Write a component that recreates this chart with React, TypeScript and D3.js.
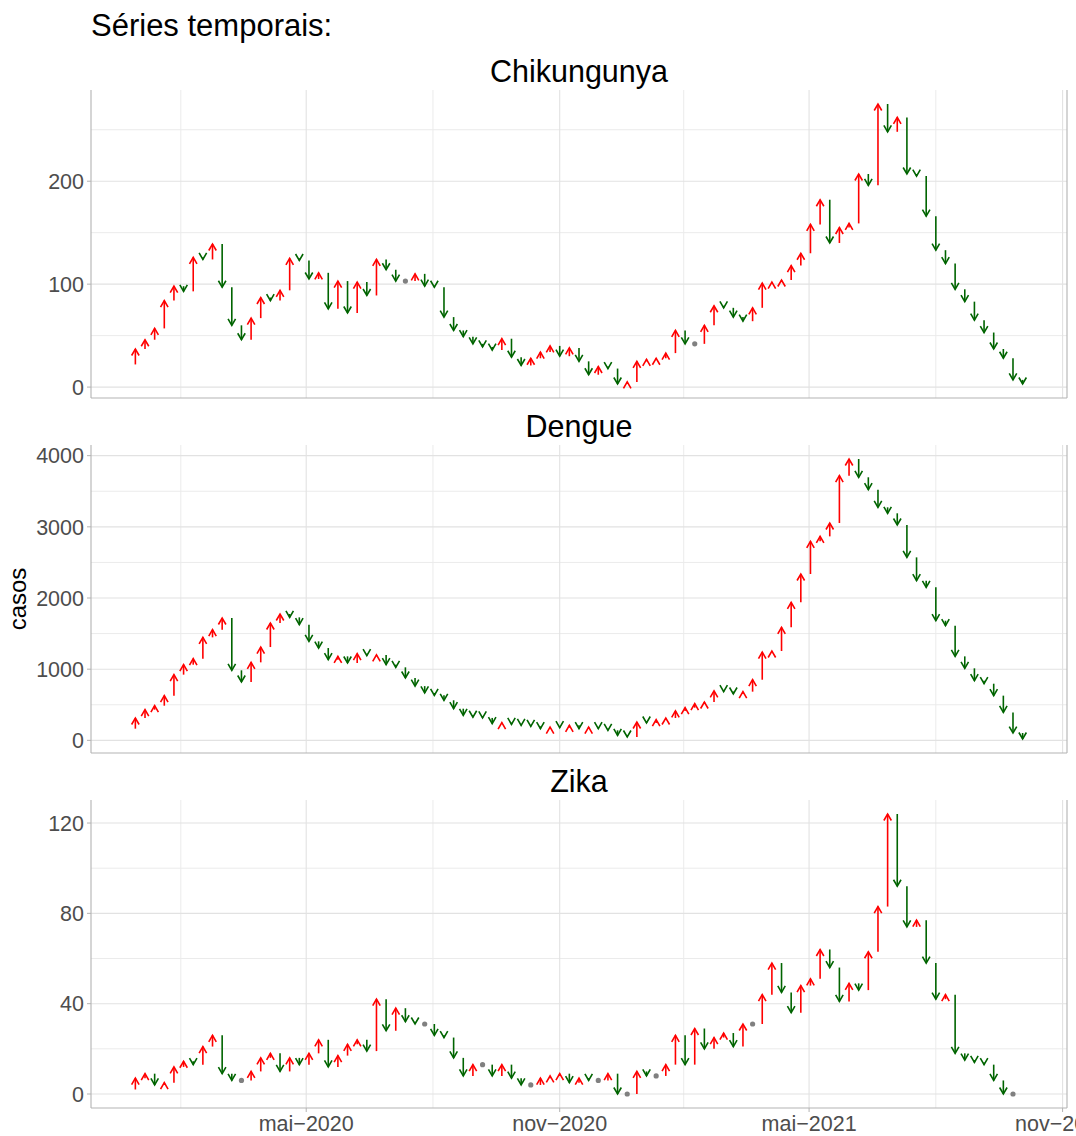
import React from 'react';
import * as d3 from 'd3';

// semanas epidemiológicas, a partir de 29/12/2019
const inicioSemanas = Date.UTC(2019, 11, 29);

// valor da semana anterior à primeira seta
const chikInicial = 22;
const chikungunya = [
  37, 46, 57, 84, 98, 93, 126, 124, 139, 97,
  60, 46, 67, 87, 84, 94, 125, 123, 105, 111,
  76, 103, 72, 102, 89, 124, 114, 103, 103, 110,
  98, 97, 68, 55, 49, 42, 39, 36, 47, 29,
  21, 28, 34, 40, 30, 38, 25, 12, 20, 18,
  3, 5, 25, 27, 28, 33, 55, 42, 42, 60,
  79, 77, 68, 64, 77, 101, 102, 104, 118, 130,
  158, 182, 140, 155, 159, 207, 196, 275, 248, 262,
  207, 205, 166, 133, 120, 95, 83, 65, 53, 37,
  28, 7, 3,
];

const dengueInicial = 164;
const dengue = [
  314, 431, 487, 628, 923, 1063, 1148, 1447, 1555, 1719,
  984, 820, 1096, 1311, 1649, 1775, 1728, 1625, 1391, 1297,
  1133, 1180, 1087, 1218, 1190, 1200, 1063, 1026, 876, 762,
  666, 633, 563, 445, 352, 325, 315, 236, 248, 225,
  211, 197, 164, 187, 178, 211, 164, 187, 164, 141,
  70, 47, 258, 244, 291, 314, 413, 459, 516, 539,
  694, 686, 651, 684, 852, 1240, 1255, 1588, 1939, 2337,
  2796, 2866, 3054, 3719, 3953, 3696, 3522, 3274, 3190, 3026,
  2571, 2244, 2150, 1681, 1611, 1180, 1012, 838, 796, 628,
  393, 103, 19,
];

const zikaInicial = 2;
const zika = [
  7, 9, 4, 5, 12, 14.5, 13, 21, 26, 9,
  6, 6, 10, 16, 18, 10, 16, 13, 18, 24,
  12, 17, 22, 24, 19, 42, 28, 38, 32, 31,
  31, 26, 25, 16, 8, 13, 13, 8, 13, 7,
  4, 4, 7, 8, 9, 5, 7, 6, 6, 9,
  0, 0, 10, 8, 8, 13, 26, 13, 29, 20,
  25, 27, 21, 31, 31, 44, 58, 45, 36, 48,
  51, 64, 56, 41, 49, 46, 63, 83, 124, 92,
  74, 77, 58, 42, 44, 18, 15, 14, 13, 6,
  0, 0,
];

const chikTicks = [0, 100, 200];
const chikMinor = [50, 150, 250];
const dengueTicks = [0, 1000, 2000, 3000, 4000];
const dengueMinor = [500, 1500, 2500, 3500];
const zikaTicks = [0, 40, 80, 120];
const zikaMinor = [20, 60, 100];

const xTickDates = [Date.UTC(2020, 4, 1), Date.UTC(2020, 10, 1), Date.UTC(2021, 4, 1), Date.UTC(2021, 10, 1)];
const xTickLabels = ['mai\u22122020', 'nov\u22122020', 'mai\u22122021', 'nov\u22122021'];
const xMinorDates = [Date.UTC(2020, 0, 31), Date.UTC(2020, 7, 1), Date.UTC(2021, 0, 30), Date.UTC(2021, 7, 1)];

const series = [
  { name: 'Chikungunya', start: chikInicial, values: chikungunya, ticks: chikTicks, minor: chikMinor },
  { name: 'Dengue', start: dengueInicial, values: dengue, ticks: dengueTicks, minor: dengueMinor },
  { name: 'Zika', start: zikaInicial, values: zika, ticks: zikaTicks, minor: zikaMinor },
];

const W = 1076;
const H = 1136;
const left = 91;
const right = 1067;
const panelTops = [90, 445, 800];
const panelH = 308;
const font = '"Liberation Sans", Arial, Helvetica, sans-serif';
const UP = '#ff0000';
const DOWN = '#006400';
const SAME = '#808080';
const headLen = 7.5;
const headAng = Math.PI / 6;

const weekDate = (i: number) => new Date(inicioSemanas + i * 7 * 864e5);

const App = () => {
  const nMax = d3.max(series, (s) => s.values.length) as number;
  const t0 = weekDate(0).getTime();
  const t1 = weekDate(nMax - 1).getTime();
  const pad = (t1 - t0) * 0.05;
  const x = d3.scaleUtc().domain([new Date(t0 - pad), new Date(t1 + pad)]).range([left, right]);

  return (
    <svg width={W} height={H} style={{ position: 'absolute', left: 0, top: 0, background: '#fff' }} fontFamily={font}>
      <rect width={W} height={H} fill="#fff" />
      <text x={91} y={36} fontSize={31} fill="#000">Séries temporais:</text>
      <text transform={`translate(26,${panelTops[1] + panelH / 2}) rotate(-90)`} textAnchor="middle" fontSize={24} fill="#000">casos</text>
      {series.map((s, k) => {
        const top = panelTops[k];
        const bottom = top + panelH;
        const all = [s.start, ...s.values];
        const lo = d3.min(all) as number;
        const hi = d3.max(all) as number;
        const e = (hi - lo) * 0.05;
        const y = d3.scaleLinear().domain([lo - e, hi + e]).range([bottom, top]);
        return (
          <g key={s.name}>
            <text x={(left + right) / 2} y={top - 8} textAnchor="middle" fontSize={30.5} fill="#000">{s.name}</text>
            {s.minor.map((v) => (
              <line key={'hm' + v} x1={left} x2={right} y1={y(v)} y2={y(v)} stroke="#ebebeb" strokeWidth={1} />
            ))}
            {xMinorDates.map((d) => (
              <line key={'vm' + d} x1={x(new Date(d))} x2={x(new Date(d))} y1={top} y2={bottom} stroke="#ebebeb" strokeWidth={1} />
            ))}
            {s.ticks.map((v) => (
              <line key={'h' + v} x1={left} x2={right} y1={y(v)} y2={y(v)} stroke="#e2e2e2" strokeWidth={1.1} />
            ))}
            {xTickDates.map((d) => (
              <line key={'v' + d} x1={x(new Date(d))} x2={x(new Date(d))} y1={top} y2={bottom} stroke="#e2e2e2" strokeWidth={1.1} />
            ))}
            {s.ticks.map((v) => (
              <g key={'t' + v}>
                <line x1={left - 4} x2={left} y1={y(v)} y2={y(v)} stroke="#b3b3b3" strokeWidth={1} />
                <text x={left - 7} y={y(v)} dy="0.36em" textAnchor="end" fontSize={21.5} fill="#4d4d4d">{v}</text>
              </g>
            ))}
            {s.values.map((v, i) => {
              const prev = i === 0 ? s.start : s.values[i - 1];
              const cx = x(weekDate(i));
              const y1 = y(prev);
              const y2 = y(v);
              if (v === prev) {
                return <circle key={i} cx={cx} cy={y2} r={2.6} fill={SAME} />;
              }
              const col = v > prev ? UP : DOWN;
              const dir = v > prev ? 1 : -1;
              const dx = headLen * Math.sin(headAng);
              const dy = headLen * Math.cos(headAng) * dir;
              return (
                <g key={i} stroke={col} strokeWidth={1.6} fill="none">
                  <line x1={cx} x2={cx} y1={y1} y2={y2} />
                  <polyline points={`${cx - dx},${y2 + dy} ${cx},${y2} ${cx + dx},${y2 + dy}`} />
                </g>
              );
            })}
            <line x1={left} x2={left} y1={top} y2={bottom} stroke="#b3b3b3" strokeWidth={1.1} />
            <line x1={right} x2={right} y1={top} y2={bottom} stroke="#b3b3b3" strokeWidth={1.1} />
            <line x1={left} x2={right} y1={bottom} y2={bottom} stroke="#b3b3b3" strokeWidth={1.1} />
            {k === series.length - 1 &&
              xTickDates.map((d, j) => (
                <g key={'xt' + d}>
                  <line x1={x(new Date(d))} x2={x(new Date(d))} y1={bottom} y2={bottom + 4} stroke="#b3b3b3" strokeWidth={1} />
                  <text x={x(new Date(d))} y={1131} textAnchor="middle" fontSize={21.5} fill="#4d4d4d">{xTickLabels[j]}</text>
                </g>
              ))}
          </g>
        );
      })}
    </svg>
  );
};

export default App;
